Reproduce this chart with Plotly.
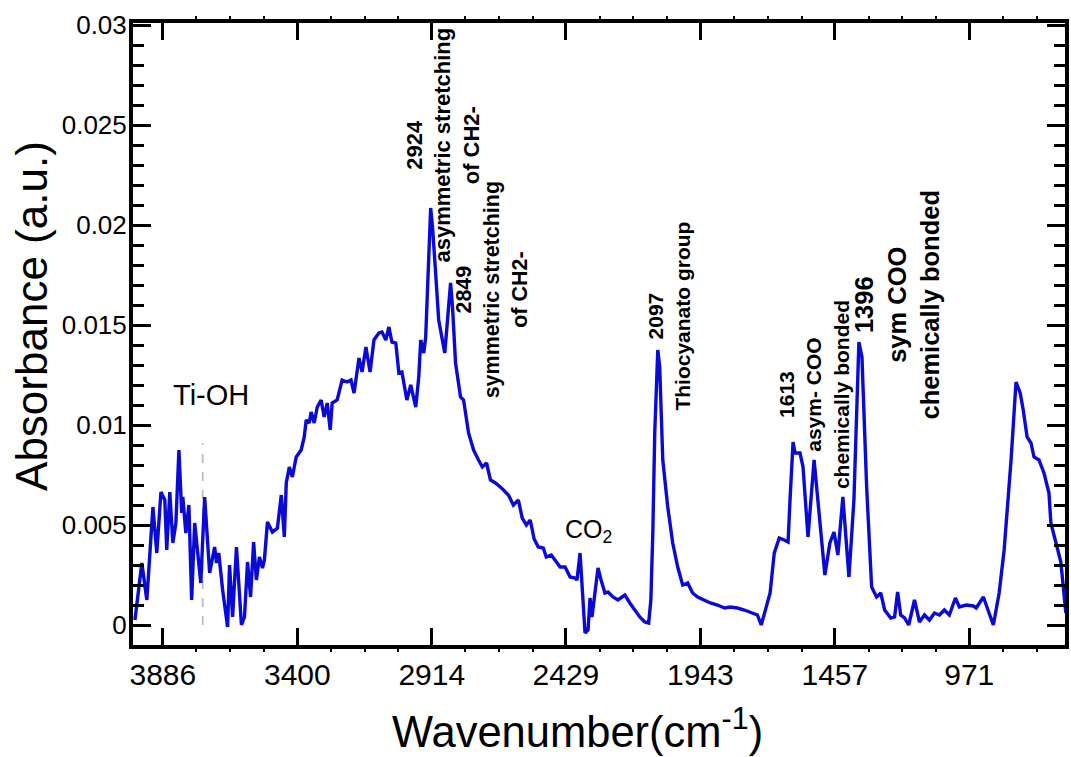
import plotly.graph_objects as go

# ---- data ----
wavenumber = [
    3987, 3962, 3944, 3922, 3908, 3893, 3879, 3872, 3861, 3850, 3839, 3828, 3818, 3814, 3803,
    3792, 3782, 3771, 3749, 3735, 3717, 3699, 3692, 3684, 3670, 3652, 3645, 3634, 3620, 3602,
    3591, 3580, 3569, 3558, 3548, 3537, 3526, 3519, 3508, 3490, 3472, 3458, 3447, 3440, 3429,
    3418, 3404, 3386, 3375, 3368, 3357, 3350, 3339, 3328, 3314, 3303, 3292, 3281, 3274, 3256,
    3238, 3220, 3206, 3195, 3177, 3166, 3152, 3137, 3123, 3105, 3094, 3080, 3069, 3058, 3044,
    3033, 3022, 3004, 2990, 2972, 2961, 2954, 2943, 2936, 2918, 2911, 2900, 2889, 2867, 2846,
    2839, 2828, 2810, 2799, 2781, 2763, 2745, 2731, 2716, 2702, 2684, 2662, 2637, 2619, 2601,
    2587, 2572, 2558, 2544, 2529, 2511, 2500, 2482, 2468, 2450, 2432, 2414, 2396, 2389, 2378,
    2371, 2360, 2349, 2342, 2335, 2324, 2313, 2302, 2288, 2277, 2259, 2241, 2216, 2198, 2180,
    2162, 2144, 2130, 2122, 2115, 2108, 2097, 2090, 2079, 2061, 2043, 2025, 2007, 1989, 1971,
    1953, 1928, 1907, 1881, 1856, 1835, 1809, 1784, 1763, 1737, 1723, 1709, 1691, 1676, 1658,
    1640, 1626, 1619, 1608, 1601, 1583, 1572, 1554, 1532, 1514, 1493, 1475, 1460, 1446, 1428,
    1406, 1388, 1370, 1359, 1342, 1324, 1306, 1291, 1277, 1255, 1241, 1230, 1219, 1205, 1190,
    1169, 1151, 1133, 1115, 1097, 1079, 1061, 1043, 1021, 1007, 982, 956, 946, 920, 899,
    884, 863, 845, 820, 802, 787, 776, 762, 748, 737, 719, 701, 683, 676, 650,
    640, 622,
]
absorbance = [
    0.00025, 0.0031, 0.00125, 0.0059, 0.0036, 0.00665, 0.00625, 0.00375, 0.00665, 0.0041, 0.0051, 0.00875, 0.0056, 0.0064, 0.0046,
    0.0060, 0.00125, 0.0051, 0.0021, 0.0064, 0.0026, 0.0039, 0.0031, 0.0036, 0.00175, -0.0001, 0.0030, 0.0004, 0.0039, 0.0000,
    0.0004, 0.00315, 0.0014, 0.00415, 0.00225, 0.0034, 0.00285, 0.00325, 0.00515, 0.00465, 0.00485, 0.0065, 0.0044, 0.0071, 0.0079,
    0.0074, 0.0084, 0.00875, 0.0094, 0.01025, 0.0101, 0.01065, 0.0101, 0.0109, 0.01125, 0.0104, 0.0111, 0.00975, 0.0111, 0.01125,
    0.01225, 0.01215, 0.01225, 0.0116, 0.01335, 0.01265, 0.0139, 0.01265, 0.01425, 0.0146, 0.01465, 0.01425, 0.0149, 0.01415, 0.0141,
    0.0126, 0.01265, 0.01125, 0.0120, 0.0109, 0.0124, 0.01425, 0.0136, 0.0144, 0.02085, 0.01985, 0.0176, 0.01525, 0.0136, 0.0171,
    0.0159, 0.0131, 0.0114, 0.01125, 0.0096, 0.00875, 0.00825, 0.0079, 0.0081, 0.00725, 0.0071, 0.00685, 0.0065, 0.0060, 0.00625,
    0.00535, 0.0050, 0.00525, 0.0043, 0.0039, 0.00385, 0.0034, 0.0035, 0.00325, 0.0029, 0.0029, 0.0024, 0.00235, 0.00225, 0.0036,
    0.0021, -0.0004, -0.00025, 0.00135, 0.0004, 0.0016, 0.00285, 0.00225, 0.0016, 0.00165, 0.0014, 0.00125, 0.0015, 0.0011, 0.00075,
    0.0004, 0.00015, 0.0001, 0.00125, 0.0046, 0.0096, 0.01375, 0.0129, 0.00825, 0.0059, 0.0041, 0.0029, 0.0020, 0.0021, 0.0016,
    0.0014, 0.00125, 0.0011, 0.0010, 0.00085, 0.0009, 0.00085, 0.00075, 0.00065, 0.0005, 0.0000, 0.00075, 0.0016, 0.0036, 0.00435,
    0.00425, 0.00415, 0.00625, 0.00915, 0.0086, 0.0086, 0.0079, 0.0044, 0.00825, 0.0054, 0.0025, 0.0041, 0.00465, 0.0035, 0.0064,
    0.0024, 0.00625, 0.01415, 0.0134, 0.0069, 0.0019, 0.0014, 0.0016, 0.00075, 0.00035, 0.0004, 0.00165, 0.0005, 0.00035, 0.0000,
    0.00125, 0.00015, 0.0005, 0.00025, 0.0006, 0.0005, 0.00075, 0.0005, 0.00135, 0.0009, 0.0010, 0.00095, 0.00085, 0.0014, 0.00065,
    0.0000, 0.0016, 0.00375, 0.00825, 0.01215, 0.0116, 0.01075, 0.0094, 0.0091, 0.0084, 0.00825, 0.0076, 0.0066, 0.0051, 0.0036,
    0.00315, 0.0006,
]

x_tickvals = [3886, 3400, 2914, 2429, 1943, 1457, 971]
x_ticktext = ["3886", "3400", "2914", "2429", "1943", "1457", "971"]
y_tickvals = [0, 0.005, 0.01, 0.015, 0.02, 0.025, 0.03]
y_ticktext = ["0", "0.005", "0.01", "0.015", "0.02", "0.025", "0.03"]

ti_oh_position = 3742
ti_oh_line_top = 0.0091

# peak annotations: (wavenumber, absorbance, text, font size)
peak_labels = [
    (2875, 0.0240, "<b>2924<br>asymmetric stretching<br>of CH2-</b>", 22),
    (2695, 0.01675, "<b>2849<br>symmetric stretching<br>of CH2-</b>", 21.5),
    (2058, 0.01545, "<b>2097<br>Thiocyanato group</b>", 21),
    (1532, 0.0115, "<b>1613<br>asym- COO<br>chemically bonded</b>", 21),
    (1234, 0.0160, "<b>1396<br>sym COO<br>chemically bonded</b>", 25.5),
]

FONT = "Liberation Sans, Arial, Helvetica, sans-serif"

fig = go.Figure()
fig.add_trace(go.Scatter(
    x=[ti_oh_position, ti_oh_position], y=[0, ti_oh_line_top], mode="lines",
    line=dict(color="#b8b8b8", width=1.6, dash="dash"), showlegend=False, hoverinfo="skip"))
fig.add_trace(go.Scatter(
    x=wavenumber, y=absorbance, mode="lines",
    line=dict(color="#0a0ad6", width=3.4), showlegend=False))

# minor tick positions between the labelled ticks (4 intervals)
step = (x_tickvals[0] - x_tickvals[1]) / 4
x_minor = []
v = x_tickvals[0] + step
while v > 600:
    if all(abs(v - t) > 1 for t in x_tickvals):
        x_minor.append(v)
    v -= step

fig.update_xaxes(
    range=[3994, 625], tickvals=x_tickvals, ticktext=x_ticktext,
    ticks="inside", ticklen=17, tickwidth=3, tickcolor="black",
    showline=True, linecolor="black", linewidth=4, mirror="allticks",
    showgrid=False, zeroline=False,
    tickfont=dict(family=FONT, size=30, color="black"),
    minor=dict(tickvals=x_minor, ticks="outside", ticklen=3, tickwidth=2, tickcolor="black"),
)
fig.update_yaxes(
    range=[-0.001, 0.0301], tickvals=y_tickvals, ticktext=y_ticktext,
    ticks="inside", ticklen=18, tickwidth=3, tickcolor="black",
    showline=True, linecolor="black", linewidth=4, mirror="allticks",
    showgrid=False, zeroline=False, ticklabelstandoff=-3,
    tickfont=dict(family=FONT, size=26, color="black"),
    minor=dict(dtick=0.001, tick0=0, ticks="inside", ticklen=11, tickwidth=3, tickcolor="black"),
)

annotations = []
for wx, ay, txt, fs in peak_labels:
    annotations.append(dict(
        x=wx, y=ay, xref="x", yref="y", text=txt, showarrow=False, textangle=-90,
        xanchor="center", yanchor="middle", align="center",
        font=dict(family=FONT, size=fs, color="black")))
annotations.append(dict(
    x=3713, y=0.0115, xref="x", yref="y", text="Ti-OH", showarrow=False,
    xanchor="center", yanchor="middle", font=dict(family=FONT, size=29, color="black")))
annotations.append(dict(
    x=2346, y=0.0047, xref="x", yref="y", text="CO<sub>2</sub>", showarrow=False,
    xanchor="center", yanchor="middle", font=dict(family=FONT, size=25, color="black")))
# axis titles
annotations.append(dict(
    x=0.5, y=0, xref="paper", yref="paper", xshift=-22, yshift=-83,
    text="Wavenumber(cm<sup>-1</sup>)",
    showarrow=False, xanchor="center", yanchor="middle", borderpad=0,
    font=dict(family=FONT, size=43.5, color="black")))
annotations.append(dict(
    x=0, y=0.529, xref="paper", yref="paper", xshift=-101, text="Absorbance (a.u.)",
    textangle=-90, showarrow=False, xanchor="center", yanchor="middle",
    font=dict(family=FONT, size=44, color="black")))

fig.update_layout(
    width=1071, height=757,
    margin=dict(l=133, r=2, t=23, b=112),
    paper_bgcolor="white", plot_bgcolor="white",
    annotations=annotations,
    font=dict(family=FONT, color="black"),
)

fig.write_html("out.html")
